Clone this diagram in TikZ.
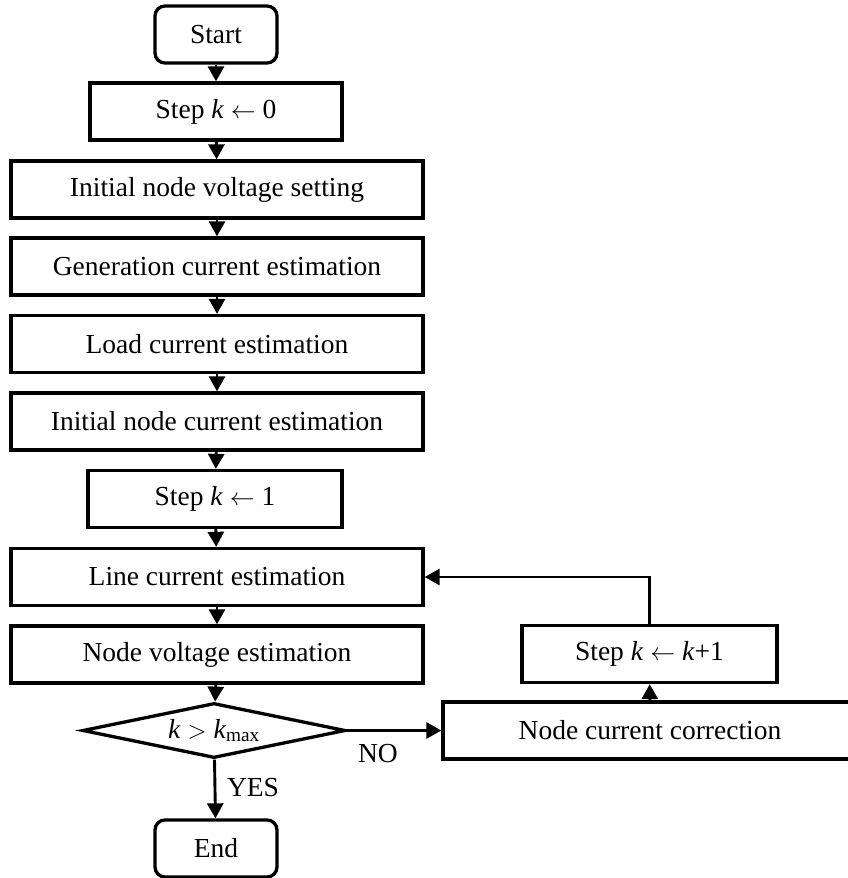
\documentclass[tikz,border=0pt]{standalone}
\usepackage{fontspec}
\setmainfont{Liberation Serif}
\usetikzlibrary{arrows.meta,shapes.geometric}

\begin{document}
\begin{tikzpicture}[x=1pt,y=-1pt,
  txt/.style={font=\fontsize{27.5}{30}\selectfont},
  box/.style={txt,draw,line width=3.3pt,minimum height=57pt,inner sep=0pt},
  wide/.style={box,minimum width=412pt},
  term/.style={box,rounded corners=10pt,minimum width=122pt},
  cond/.style={txt,draw,diamond,aspect=4.8,line width=3.3pt,inner sep=0pt,
    minimum width=263pt,minimum height=55pt},
  conn/.style={line width=2.9pt,-{Triangle[length=15pt,width=16pt]}}]

\useasboundingbox (0,0) rectangle (848,878);

% main column
\node[term] (start) at (216,34.5) {Start};
\node[box,minimum width=252pt] (s0) at (216,111.5) {Step \textit{k} $\leftarrow$ 0};
\node[wide] (init) at (217,189.5) {Initial node voltage setting};
\node[wide] (gen) at (217,266.5) {Generation current estimation};
\node[wide] (load) at (217,344) {Load current estimation};
\node[wide] (inic) at (217,421.5) {Initial node current estimation};
\node[box,minimum width=254pt] (s1) at (215,499) {Step \textit{k} $\leftarrow$ 1};
\node[wide] (line) at (217,577) {Line current estimation};
\node[wide] (nvolt) at (217,654.5) {Node voltage estimation};
\node[cond] (dec) at (214,730.5) {\raisebox{3pt}{\textit{k} $>$ \textit{k}\textsubscript{max}}};
\node[term] (end) at (216,848.5) {End};

% correction loop
\node[box,minimum width=414pt] (ncc) at (650,730.5) {Node current correction};
\node[box,minimum width=255pt] (sk) at (649.5,654) {Step \textit{k} $\leftarrow$ \textit{k}+1};

% branch labels
\node[txt,inner sep=0pt] (no) at (378,754) {NO};
\node[txt,inner sep=0pt] (yes) at (253,788) {YES};

% connectors
\draw[conn] (start) -- (s0);
\draw[conn] (s0) -- (init);
\draw[conn] (init) -- (gen);
\draw[conn] (gen) -- (load);
\draw[conn] (load) -- (inic);
\draw[conn] (inic) -- (s1);
\draw[conn] (s1) -- (line);
\draw[conn] (line) -- (nvolt);
\draw[conn] (nvolt) -- (dec);
\draw[conn] (dec) -- (end);
\draw[conn] (dec.east) -- (ncc.west);
\draw[conn] (ncc) -- (sk);
\draw[conn] (sk.north) |- (line.east);
\end{tikzpicture}
\end{document}
